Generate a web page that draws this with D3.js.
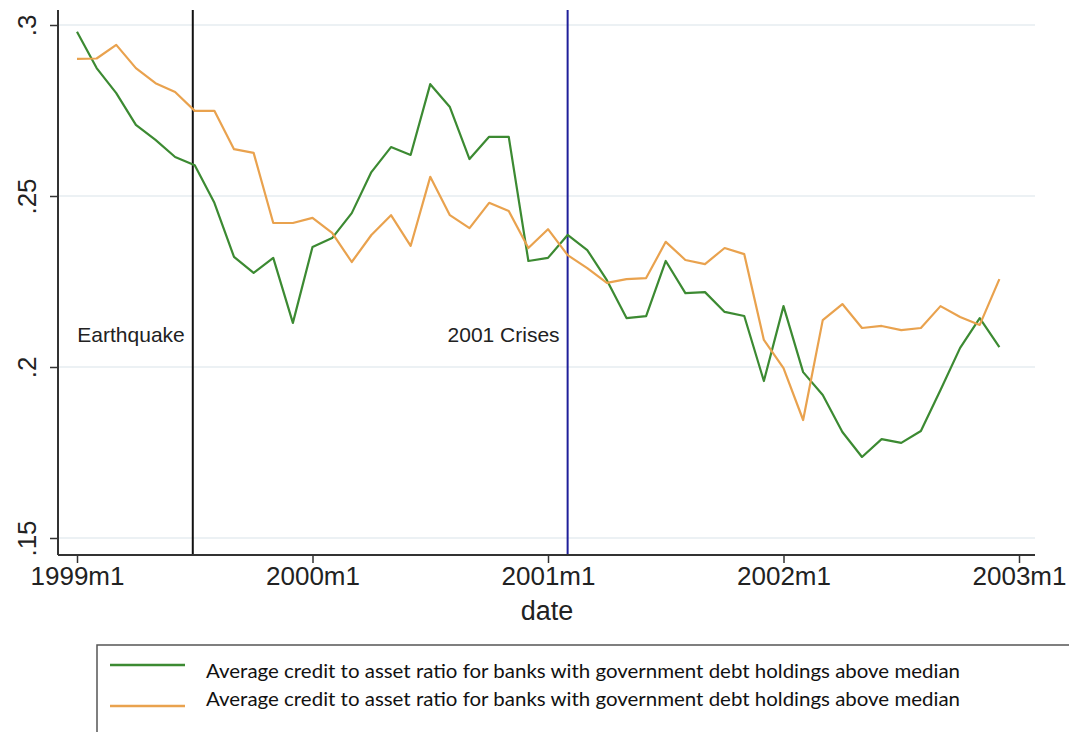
<!DOCTYPE html>
<html><head><meta charset="utf-8">
<script src="https://cdn.jsdelivr.net/npm/d3@7"></script>
<style>body{margin:0;background:#fff}svg{display:block}</style>
</head><body>
<svg id="c" width="1069" height="732"></svg>
<script>
const months = d3.range(48); // 0 = 1999m1 ... 47 = 2002m12
const greenVals = [0.298,0.2874,0.2801,0.2708,0.2664,0.2614,0.259,0.248,0.2322,0.2275,0.2319,0.2129,
  0.2351,0.2377,0.245,0.257,0.2643,0.262,0.2827,0.276,0.2608,0.2673,0.2673,0.231,
  0.2319,0.2386,0.2342,0.2254,0.2143,0.2149,0.231,0.2216,0.2219,0.2161,0.2149,0.1959,
  0.2178,0.1985,0.1918,0.181,0.1737,0.1789,0.1778,0.1813,0.1933,0.2056,0.2143,0.2058];
const orangeVals = [0.2901,0.2902,0.2942,0.2874,0.283,0.2804,0.2749,0.2749,0.2637,0.2626,0.2421,0.2421,
  0.2436,0.2392,0.2307,0.2386,0.2444,0.2354,0.2556,0.2444,0.2406,0.248,0.2456,0.2348,
  0.2403,0.2327,0.2289,0.2246,0.2257,0.226,0.2366,0.2313,0.2301,0.2348,0.233,0.2079,
  0.1997,0.1845,0.2137,0.2184,0.2114,0.212,0.2108,0.2114,0.2178,0.2146,0.2123,0.2257];
const yTicks = [0.15, 0.2, 0.25, 0.3];
const yTickLabels = [".15", ".2", ".25", ".3"];
const xTicks = [0, 12, 24, 36, 48];
const xTickLabels = ["1999m1", "2000m1", "2001m1", "2002m1", "2003m1"];
const eventX = [5.9, 25];
const eventLabels = ["Earthquake", "2001 Crises"];
const eventColors = ["#111111", "#1f1f9a"];
const seriesNames = ["Average credit to asset ratio for banks with government debt holdings above median",
  "Average credit to asset ratio for banks with government debt holdings above median"];
const seriesColors = ["#3c8a32", "#e9a24e"];

const svg = d3.select("#c");
const pL = 58, pR = 1035, pT = 10, pB = 555;
const x = d3.scaleLinear().domain([0, 48]).range([77, 1019]);
const y = d3.scaleLinear().domain([0.3, 0.15]).range([25, 538]);
const font = "'Liberation Sans', Arial, sans-serif";

// gridlines
svg.append("g").selectAll("line").data(yTicks).join("line")
  .attr("x1", pL).attr("x2", pR).attr("y1", d => y(d)).attr("y2", d => y(d))
  .attr("stroke", "#e6edf1").attr("stroke-width", 1.5);

// event lines
svg.append("g").selectAll("line").data(eventX).join("line")
  .attr("x1", d => x(d)).attr("x2", d => x(d)).attr("y1", pT).attr("y2", pB)
  .attr("stroke", (d, i) => eventColors[i]).attr("stroke-width", 2);
svg.append("g").selectAll("text").data(eventX).join("text")
  .attr("x", d => x(d) - 8).attr("y", 342).attr("text-anchor", "end")
  .attr("font-family", font).attr("font-size", 21).attr("fill", "#222")
  .text((d, i) => eventLabels[i]);

// lines
const line = d3.line().x((d, i) => x(months[i])).y(d => y(d));
[greenVals, orangeVals].forEach((vals, k) => {
  svg.append("path").datum(vals).attr("d", line).attr("fill", "none")
    .attr("stroke", seriesColors[k]).attr("stroke-width", 2.2).attr("stroke-linejoin", "round");
});

// y axis
const yAxis = svg.append("g").attr("transform", `translate(${pL},0)`)
  .call(d3.axisLeft(y).tickValues(yTicks).tickSize(8).tickFormat((d, i) => yTickLabels[i]));
yAxis.select(".domain").attr("d", `M0,${pT}V${pB}`).attr("stroke", "#333").attr("stroke-width", 2);
yAxis.selectAll(".tick line").attr("stroke", "#333").attr("stroke-width", 1.5);
yAxis.selectAll(".tick text").attr("font-family", font).attr("font-size", 26).attr("fill", "#222")
  .attr("x", 0).attr("y", 0).attr("dy", "0.35em").attr("text-anchor", "middle")
  .attr("transform", "translate(-31,0) rotate(-90)");

// x axis
const xAxis = svg.append("g").attr("transform", `translate(0,${pB})`)
  .call(d3.axisBottom(x).tickValues(xTicks).tickSize(8).tickFormat((d, i) => xTickLabels[i]));
xAxis.select(".domain").attr("d", `M${pL},0H${pR}`).attr("stroke", "#333").attr("stroke-width", 2);
xAxis.selectAll(".tick line").attr("stroke", "#333").attr("stroke-width", 1.5);
xAxis.selectAll(".tick text").attr("font-family", font).attr("font-size", 26).attr("fill", "#222")
  .attr("y", 12).attr("dy", "0.71em");
svg.append("text").attr("x", 547).attr("y", 620).attr("text-anchor", "middle")
  .attr("font-family", font).attr("font-size", 27).attr("fill", "#222").text("date");

// legend
const lg = svg.append("g");
lg.append("rect").attr("x", 97).attr("y", 645).attr("width", 1000).attr("height", 120)
  .attr("fill", "none").attr("stroke", "#555").attr("stroke-width", 1.5);
const legLineY = [665, 706], legTextY = [678, 706];
seriesNames.forEach((n, k) => {
  lg.append("line").attr("x1", 110).attr("x2", 185).attr("y1", legLineY[k]).attr("y2", legLineY[k])
    .attr("stroke", seriesColors[k]).attr("stroke-width", 2.5);
  lg.append("text").attr("x", 206).attr("y", legTextY[k])
    .attr("font-family", "Lato, 'Open Sans', sans-serif").attr("font-size", 19)
    .attr("fill", "#111").attr("textLength", 754).attr("lengthAdjust", "spacingAndGlyphs").text(n);
});
</script>
</body></html>
